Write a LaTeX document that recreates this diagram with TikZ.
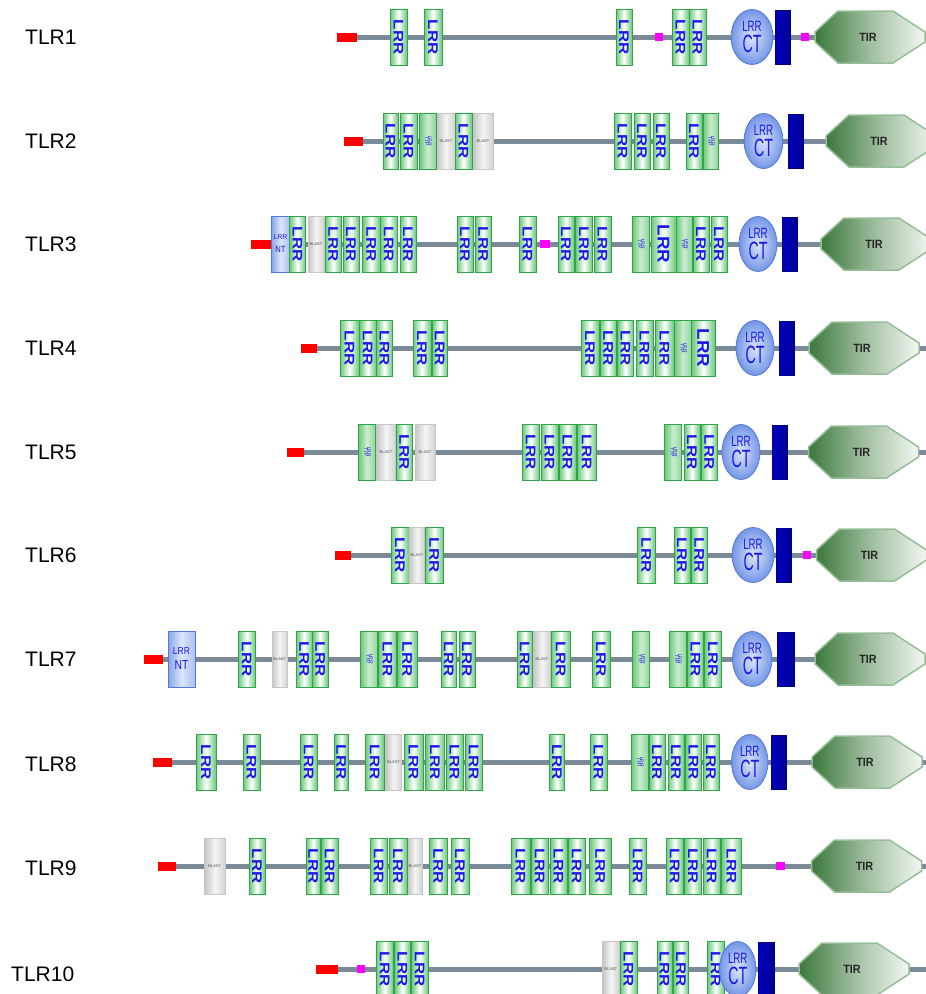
\documentclass[tikz,border=0pt]{standalone}
\usepackage{fontspec}
\setmainfont{Liberation Sans}
\usetikzlibrary{shapes.geometric}
\definecolor{bbone}{RGB}{122,138,152}
\definecolor{lrrg}{RGB}{46,165,72}
\definecolor{lrrf}{RGB}{105,200,120}
\definecolor{txtb}{RGB}{25,25,235}
\definecolor{ctf}{RGB}{115,150,230}
\definecolor{ctd}{RGB}{85,120,215}
\definecolor{tmb}{RGB}{0,0,150}
\definecolor{tirdark}{RGB}{60,120,60}
\definecolor{tirlight}{RGB}{242,247,242}
\definecolor{tirb}{RGB}{150,190,150}
\definecolor{pinkm}{RGB}{255,0,255}
\tikzset{
 dom/.style={rectangle, inner sep=0pt, minimum height=56pt, line width=0.8pt},
 lrrbox/.style={dom, draw=lrrg, left color=lrrf, right color=lrrf, middle color=white},
 typbox/.style={dom, draw=lrrg, left color=lrrf, right color=lrrf!75, middle color=lrrf!35},
 blastbox/.style={dom, draw=gray!45, left color=gray!45, right color=gray!35, middle color=gray!8},
 ntbox/.style={dom, draw=ctd, left color=ctf!85, right color=ctf!60, middle color=ctf!25, align=center, text=txtb},
 ctell/.style={ellipse, inner sep=0pt, minimum height=55pt, draw=ctd, line width=0.8pt, inner color=ctf!25, outer color=ctf, align=center, text=txtb},
 tmbar/.style={rectangle, inner sep=0pt, minimum height=54pt, draw=black!50!blue, left color=blue!75!black, right color=tmb, line width=0.8pt},
 sig/.style={rectangle, inner sep=0pt, minimum height=9pt, fill=red},
 pk/.style={rectangle, inner sep=0pt, minimum height=8pt, fill=pinkm},
 bone/.style={draw=bbone, line width=5pt},
 tlab/.style={anchor=west, font=\fontsize{21}{21}\selectfont, inner sep=0pt},
 tirtext/.style={inner sep=0pt, font=\bfseries\fontsize{12}{12}\selectfont, text=black!85},
}
\newcommand\dm[6]{\pgfmathsetmacro\dmc{(#3+#4)/2}\pgfmathsetmacro\dmw{#4-#3}%
 \node[#1, minimum width=\dmw pt] (#2) at (\dmc,#5) {#6};}
\newcommand\xL{\rotatebox{-90}{\color{txtb}\bfseries\fontsize{14}{14}\selectfont\scalebox{1.2}[1]{LRR}}}
\newcommand\xW{\rotatebox{-90}{\color{txtb}\bfseries\fontsize{17}{17}\selectfont\scalebox{1.1}[1]{LRR}}}
\newcommand\xY{\rotatebox{-90}{\color{txtb}\fontsize{5}{5}\selectfont\begin{tabular}{@{}c@{}}LRR\\[-2pt]TYP\end{tabular}}}
\newcommand\xB{{\color{black!70}\fontsize{4}{4}\selectfont BLAST}}
\newcommand\xN{\fontsize{7}{7}\selectfont LRR\\[1pt]\fontsize{9}{9}\selectfont\scalebox{0.85}[1]{NT}}
\newcommand\xNw{\fontsize{10}{10}\selectfont\scalebox{0.85}[1]{LRR}\\[3pt]\fontsize{13}{13}\selectfont\scalebox{0.8}[1]{NT}}
\newcommand\xC{\fontsize{15}{15}\selectfont\scalebox{0.65}[1]{LRR}\\[3pt]\fontsize{25}{22}\selectfont\scalebox{0.57}[1]{CT}}
\newcommand\tirshape[3]{%
 \shadedraw[left color=tirdark, right color=tirlight, middle color=tirdark!45!tirlight, draw=tirb, line width=1.5pt]
 (#2,#3) ++(0,-5) -- ++(23,-21) -- ++(55,0) -- ++(32,21) -- ++(0,10) -- ++(-32,21) -- ++(-55,0) -- ++(-23,-21) -- cycle;
 \node[tirtext] (#1) at (#2+53,#3) {\scalebox{0.9}[1]{TIR}};}
\begin{document}
\begin{tikzpicture}[x=1pt,y=-1pt]
\useasboundingbox (0,0) rectangle (926,994);
\clip (0,0) rectangle (926,994);
% ---------- labels
\node[tlab] (l1) at (25,37) {TLR1};
\node[tlab] (l2) at (25,141) {TLR2};
\node[tlab] (l3) at (25,244) {TLR3};
\node[tlab] (l4) at (25,348) {TLR4};
\node[tlab] (l5) at (25,452) {TLR5};
\node[tlab] (l6) at (25,555) {TLR6};
\node[tlab] (l7) at (25,659) {TLR7};
\node[tlab] (l8) at (25,764) {TLR8};
\node[tlab] (l9) at (25,868) {TLR9};
\node[tlab] (l10) at (11,974) {TLR10};
% ---------- TLR1
\coordinate (r1e) at (926,37);
\dm{sig}{r1s}{337}{357}{37}{}
\draw[bone] (r1s.east) -- (r1e);
\dm{lrrbox}{r1n1}{390}{407}{37}{\xL}
\dm{lrrbox}{r1n2}{424}{442}{37}{\xL}
\dm{lrrbox}{r1n3}{616}{632}{37}{\xL}
\dm{pk}{r1p1}{655}{663}{37}{}
\dm{lrrbox}{r1n4}{672}{689}{37}{\xL}
\dm{lrrbox}{r1n5}{689}{706}{37}{\xL}
\dm{ctell}{r1ct}{731}{773}{37}{\xC}
\dm{tmbar}{r1tm}{775}{790}{37}{}
\dm{pk}{r1p2}{801}{809}{37}{}
\tirshape{r1t}{815}{37}
% ---------- TLR2
\coordinate (r2e) at (926,141);
\dm{sig}{r2s}{344}{363}{141}{}
\draw[bone] (r2s.east) -- (r2e);
\dm{lrrbox}{r2n1}{383}{398}{141}{\xL}
\dm{lrrbox}{r2n2}{400}{417}{141}{\xL}
\dm{typbox}{r2n3}{419}{436}{141}{\xY}
\dm{blastbox}{r2n4}{437}{455}{141}{\xB}
\dm{lrrbox}{r2n5}{455}{472}{141}{\xL}
\dm{blastbox}{r2n6}{473}{493}{141}{\xB}
\dm{lrrbox}{r2n7}{614}{631}{141}{\xL}
\dm{lrrbox}{r2n8}{634}{650}{141}{\xL}
\dm{lrrbox}{r2n9}{653}{669}{141}{\xL}
\dm{lrrbox}{r2n10}{686}{702}{141}{\xL}
\dm{typbox}{r2n11}{703}{718}{141}{\xY}
\dm{ctell}{r2ct}{744}{783}{141}{\xC}
\dm{tmbar}{r2tm}{788}{803}{141}{}
\tirshape{r2t}{826}{141}
% ---------- TLR3
\coordinate (r3e) at (926,244);
\dm{sig}{r3s}{251}{271.5}{244}{}
\draw[bone] (r3s.east) -- (r3e);
\dm{ntbox}{r3nt}{271.5}{289.5}{244}{\xN}
\dm{lrrbox}{r3n1}{289.5}{305.5}{244}{\xL}
\dm{blastbox}{r3n2}{308}{324}{244}{\xB}
\dm{lrrbox}{r3n3}{325}{341.5}{244}{\xL}
\dm{lrrbox}{r3n4}{343}{359}{244}{\xL}
\dm{lrrbox}{r3n5}{362.5}{380}{244}{\xL}
\dm{lrrbox}{r3n6}{380}{397.5}{244}{\xL}
\dm{lrrbox}{r3n7}{400}{416}{244}{\xL}
\dm{lrrbox}{r3n8}{457}{473}{244}{\xL}
\dm{lrrbox}{r3n9}{475}{491.5}{244}{\xL}
\dm{lrrbox}{r3n10}{519}{536}{244}{\xL}
\dm{pk}{r3p1}{540}{550}{244}{}
\dm{lrrbox}{r3n11}{558}{574}{244}{\xL}
\dm{lrrbox}{r3n12}{575.5}{592.5}{244}{\xL}
\dm{lrrbox}{r3n13}{594}{611}{244}{\xL}
\dm{typbox}{r3n14}{632}{649}{244}{\xY}
\dm{lrrbox}{r3n15}{651}{676}{244}{\xW}
\dm{typbox}{r3n16}{676}{692}{244}{\xY}
\dm{lrrbox}{r3n17}{693}{709}{244}{\xL}
\dm{lrrbox}{r3n18}{711}{727}{244}{\xL}
\dm{ctell}{r3ct}{739}{777}{244}{\xC}
\dm{tmbar}{r3tm}{782}{797}{244}{}
\tirshape{r3t}{821}{244}
% ---------- TLR4
\coordinate (r4e) at (926,348);
\dm{sig}{r4s}{301}{317}{348}{}
\draw[bone] (r4s.east) -- (r4e);
\dm{lrrbox}{r4n1}{340}{359}{348}{\xL}
\dm{lrrbox}{r4n2}{359.5}{376}{348}{\xL}
\dm{lrrbox}{r4n3}{376.5}{392.5}{348}{\xL}
\dm{lrrbox}{r4n4}{413}{431}{348}{\xL}
\dm{lrrbox}{r4n5}{432}{447.5}{348}{\xL}
\dm{lrrbox}{r4n6}{581}{599}{348}{\xL}
\dm{lrrbox}{r4n7}{600}{616.5}{348}{\xL}
\dm{lrrbox}{r4n8}{617.5}{633.5}{348}{\xL}
\dm{lrrbox}{r4n9}{636}{653}{348}{\xL}
\dm{lrrbox}{r4n10}{655}{674}{348}{\xL}
\dm{typbox}{r4n11}{674}{691.5}{348}{\xY}
\dm{lrrbox}{r4n12}{691.5}{715}{348}{\xW}
\dm{ctell}{r4ct}{736}{774}{348}{\xC}
\dm{tmbar}{r4tm}{779}{794}{348}{}
\tirshape{r4t}{809}{348}
% ---------- TLR5
\coordinate (r5e) at (926,452);
\dm{sig}{r5s}{287}{303.5}{452}{}
\draw[bone] (r5s.east) -- (r5e);
\dm{typbox}{r5n1}{358}{375.5}{452}{\xY}
\dm{blastbox}{r5n2}{376.5}{395.5}{452}{\xB}
\dm{lrrbox}{r5n3}{396}{412.5}{452}{\xL}
\dm{blastbox}{r5n4}{415}{435}{452}{\xB}
\dm{lrrbox}{r5n5}{522}{539.5}{452}{\xL}
\dm{lrrbox}{r5n6}{541}{558}{452}{\xL}
\dm{lrrbox}{r5n7}{559}{576}{452}{\xL}
\dm{lrrbox}{r5n8}{577}{596.5}{452}{\xL}
\dm{typbox}{r5n9}{664.5}{681.5}{452}{\xY}
\dm{lrrbox}{r5n10}{684}{700}{452}{\xL}
\dm{lrrbox}{r5n11}{701}{717.5}{452}{\xL}
\dm{ctell}{r5ct}{722}{760}{452}{\xC}
\dm{tmbar}{r5tm}{772.5}{787.5}{452}{}
\tirshape{r5t}{808.5}{452}
% ---------- TLR6
\coordinate (r6e) at (926,555);
\dm{sig}{r6s}{335}{351}{555}{}
\draw[bone] (r6s.east) -- (r6e);
\dm{lrrbox}{r6n1}{391}{409}{555}{\xL}
\dm{blastbox}{r6n2}{409.5}{424.5}{555}{\xB}
\dm{lrrbox}{r6n3}{425}{443.5}{555}{\xL}
\dm{lrrbox}{r6n4}{637}{655.5}{555}{\xL}
\dm{lrrbox}{r6n5}{674}{690}{555}{\xL}
\dm{lrrbox}{r6n6}{691}{707.5}{555}{\xL}
\dm{ctell}{r6ct}{732}{774}{555}{\xC}
\dm{tmbar}{r6tm}{776}{791.5}{555}{}
\dm{pk}{r6p1}{803}{811}{555}{}
\tirshape{r6t}{816.5}{555}
% ---------- TLR7
\coordinate (r7e) at (926,659);
\dm{sig}{r7s}{144}{163}{659}{}
\draw[bone] (r7s.east) -- (r7e);
\dm{ntbox}{r7nt}{168}{195}{659}{\xNw}
\dm{lrrbox}{r7n1}{238}{255.5}{659}{\xL}
\dm{blastbox}{r7n2}{272}{287.5}{659}{\xB}
\dm{lrrbox}{r7n3}{296}{312.5}{659}{\xL}
\dm{lrrbox}{r7n4}{312.5}{328}{659}{\xL}
\dm{typbox}{r7n5}{360}{377.5}{659}{\xY}
\dm{lrrbox}{r7n6}{378.5}{396.5}{659}{\xL}
\dm{lrrbox}{r7n7}{397.5}{417}{659}{\xL}
\dm{lrrbox}{r7n8}{441}{456.5}{659}{\xL}
\dm{lrrbox}{r7n9}{459}{475}{659}{\xL}
\dm{lrrbox}{r7n10}{517}{532.5}{659}{\xL}
\dm{blastbox}{r7n11}{533.5}{550.5}{659}{\xB}
\dm{lrrbox}{r7n12}{551}{570.5}{659}{\xL}
\dm{lrrbox}{r7n13}{592}{610}{659}{\xL}
\dm{typbox}{r7n14}{632.5}{649.5}{659}{\xY}
\dm{typbox}{r7n15}{669}{686}{659}{\xY}
\dm{lrrbox}{r7n16}{687.5}{703.5}{659}{\xL}
\dm{lrrbox}{r7n17}{704.5}{721.5}{659}{\xL}
\dm{ctell}{r7ct}{732.5}{772}{659}{\xC}
\dm{tmbar}{r7tm}{777}{794}{659}{}
\tirshape{r7t}{815}{659}
% ---------- TLR8
\coordinate (r8e) at (926,762);
\dm{sig}{r8s}{152.5}{171.5}{762}{}
\draw[bone] (r8s.east) -- (r8e);
\dm{lrrbox}{r8n1}{196}{216}{762}{\xL}
\dm{lrrbox}{r8n2}{243}{260}{762}{\xL}
\dm{lrrbox}{r8n3}{300.5}{317}{762}{\xL}
\dm{lrrbox}{r8n4}{334.5}{348}{762}{\xL}
\dm{lrrbox}{r8n5}{365.5}{384}{762}{\xL}
\dm{blastbox}{r8n6}{385.5}{401.5}{762}{\xB}
\dm{lrrbox}{r8n7}{404}{423}{762}{\xL}
\dm{lrrbox}{r8n8}{425.5}{444.5}{762}{\xL}
\dm{lrrbox}{r8n9}{446}{463}{762}{\xL}
\dm{lrrbox}{r8n10}{465}{482.5}{762}{\xL}
\dm{lrrbox}{r8n11}{549.5}{564.5}{762}{\xL}
\dm{lrrbox}{r8n12}{590}{607}{762}{\xL}
\dm{typbox}{r8n13}{631}{648}{762}{\xY}
\dm{lrrbox}{r8n14}{649}{665}{762}{\xL}
\dm{lrrbox}{r8n15}{668}{684}{762}{\xL}
\dm{lrrbox}{r8n16}{685.5}{701.5}{762}{\xL}
\dm{lrrbox}{r8n17}{703}{719}{762}{\xL}
\dm{ctell}{r8ct}{731.5}{768}{762}{\xC}
\dm{tmbar}{r8tm}{771.5}{786.5}{762}{}
\tirshape{r8t}{812}{762}
% ---------- TLR9
\coordinate (r9e) at (926,866);
\dm{sig}{r9s}{157.5}{176}{866}{}
\draw[bone] (r9s.east) -- (r9e);
\dm{blastbox}{r9n1}{204.5}{225}{866}{\xB}
\dm{lrrbox}{r9n2}{249}{265}{866}{\xL}
\dm{lrrbox}{r9n3}{306}{320.5}{866}{\xL}
\dm{lrrbox}{r9n4}{321.5}{338}{866}{\xL}
\dm{lrrbox}{r9n5}{370}{387.5}{866}{\xL}
\dm{lrrbox}{r9n6}{389}{407}{866}{\xL}
\dm{blastbox}{r9n7}{408}{422}{866}{\xB}
\dm{lrrbox}{r9n8}{429.5}{447}{866}{\xL}
\dm{lrrbox}{r9n9}{451}{469}{866}{\xL}
\dm{lrrbox}{r9n10}{511}{530}{866}{\xL}
\dm{lrrbox}{r9n11}{531}{548.5}{866}{\xL}
\dm{lrrbox}{r9n12}{550}{567}{866}{\xL}
\dm{lrrbox}{r9n13}{568}{585.5}{866}{\xL}
\dm{lrrbox}{r9n14}{589.5}{611}{866}{\xL}
\dm{lrrbox}{r9n15}{629}{646.5}{866}{\xL}
\dm{lrrbox}{r9n16}{666}{683.5}{866}{\xL}
\dm{lrrbox}{r9n17}{684.5}{701.5}{866}{\xL}
\dm{lrrbox}{r9n18}{703}{720.5}{866}{\xL}
\dm{lrrbox}{r9n19}{721.5}{741.5}{866}{\xL}
\dm{pk}{r9p1}{776}{785}{866}{}
\tirshape{r9t}{811.5}{866}
% ---------- TLR10
\coordinate (r10e) at (926,969);
\dm{sig}{r10s}{316}{338}{969}{}
\draw[bone] (r10s.east) -- (r10e);
\dm{pk}{r10p1}{357}{364.5}{969}{}
\dm{lrrbox}{r10n1}{376}{393.5}{969}{\xL}
\dm{lrrbox}{r10n2}{394.5}{410.5}{969}{\xL}
\dm{lrrbox}{r10n3}{411.5}{428}{969}{\xL}
\dm{blastbox}{r10n4}{602.5}{619}{969}{\xB}
\dm{lrrbox}{r10n5}{620}{637}{969}{\xL}
\dm{lrrbox}{r10n6}{657}{672}{969}{\xL}
\dm{lrrbox}{r10n7}{673.5}{688.5}{969}{\xL}
\dm{lrrbox}{r10n8}{707.5}{724}{969}{\xL}
\dm{ctell}{r10ct}{719.5}{756}{969}{\xC}
\dm{tmbar}{r10tm}{758}{774}{969}{}
\tirshape{r10t}{799}{969}
\end{tikzpicture}
\end{document}
